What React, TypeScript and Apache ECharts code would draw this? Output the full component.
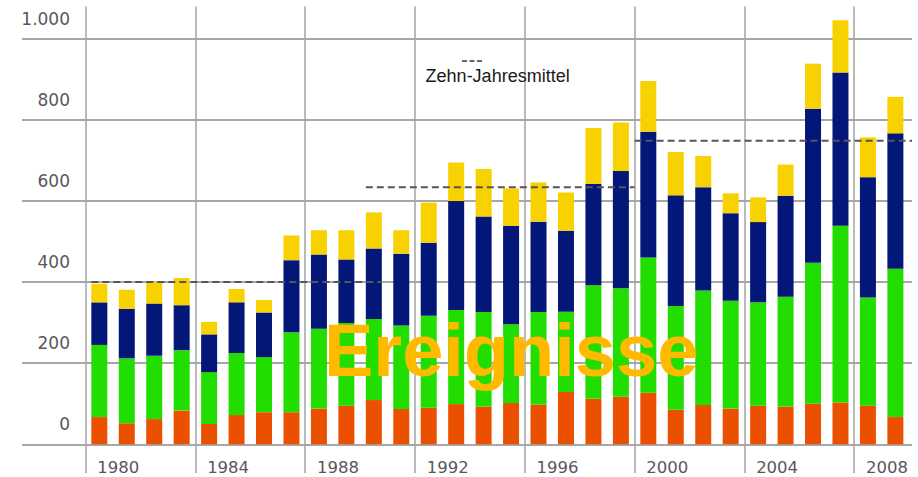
import React, { useEffect, useRef } from 'react';
import * as echarts from 'echarts';

const years = [
  '1980', '1981', '1982', '1983', '1984', '1985', '1986', '1987', '1988', '1989',
  '1990', '1991', '1992', '1993', '1994', '1995', '1996', '1997', '1998', '1999',
  '2000', '2001', '2002', '2003', '2004', '2005', '2006', '2007', '2008', '2009',
];

const yTickLabels = ['0', '200', '400', '600', '800', '1.000'];

const seriesRed = [67, 52, 62, 83, 50, 72, 79, 79, 88, 95, 109, 87, 90, 99, 93, 102, 98, 129, 112, 117, 127, 85, 97, 88, 95, 93, 100, 103, 95, 67];
const seriesGreen = [178, 160, 156, 149, 128, 153, 136, 197, 197, 204, 200, 206, 227, 232, 233, 194, 228, 198, 280, 268, 334, 256, 282, 266, 255, 271, 348, 436, 267, 366];
const seriesNavy = [105, 122, 129, 111, 93, 125, 110, 178, 183, 157, 174, 177, 180, 269, 236, 243, 223, 200, 250, 289, 310, 273, 255, 216, 198, 249, 380, 378, 297, 334];
const seriesYellow = [46, 47, 54, 67, 31, 33, 31, 61, 60, 72, 89, 58, 99, 95, 117, 92, 97, 94, 138, 120, 125, 107, 77, 49, 61, 77, 111, 129, 98, 90];

const avgStart = ['1980', '1990', '2000'];
const avgEnd = ['1990', '1999', '2009'];
const avgValues = [400, 634, 749];

const legendLabel = 'Zehn-Jahresmittel';
const titleLabel = 'Ereignisse';

export default function App() {
  const ref = useRef<HTMLDivElement>(null);

  useEffect(() => {
    if (!ref.current) return;
    const chart = echarts.init(ref.current, undefined, { renderer: 'svg' });
    const labelColor = '#5b5560';
    const barW = 16;

    const option: any = {
      animation: false,
      backgroundColor: '#ffffff',
      grid: [
        { left: 22, right: 6, top: 39, bottom: 32.7, containLabel: false, outerBoundsMode: 'none' },
        { left: 85.6, right: 8.9, top: 6.5, bottom: 4, containLabel: false, outerBoundsMode: 'none' },
      ],
      xAxis: [
        { type: 'value', gridIndex: 0, min: 0, max: 1, show: false },
        {
          type: 'category',
          gridIndex: 1,
          data: years,
          boundaryGap: true,
          offset: -28.7,
          axisLine: { show: false, onZero: false },
          axisTick: { show: false },
          splitLine: {
            show: true,
            interval: 3,
            showMaxLine: false,
            lineStyle: { color: '#a3a3a3', width: 1.5 },
          },
          axisLabel: {
            interval: 3,
            align: 'left',
            padding: [0, 0, 0, -2],
            margin: 13,
            lineHeight: 20,
            fontSize: 16.5,
            fontFamily: 'DejaVu Sans',
            color: labelColor,
          },
        },
      ],
      yAxis: [
        {
          type: 'value',
          gridIndex: 0,
          min: 0,
          max: 1000,
          interval: 200,
          axisLine: { show: false },
          axisTick: { show: false },
          splitLine: { show: true, lineStyle: { color: '#8a8a8a', width: 1.5 } },
          axisLabel: {
            inside: true,
            align: 'right',
            verticalAlign: 'bottom',
            lineHeight: 40,
            margin: 48,
            fontSize: 17,
            fontFamily: 'DejaVu Sans',
            color: labelColor,
            formatter: (v: number) => yTickLabels[Math.round(v / 200)] ?? '',
          },
        },
        { type: 'value', gridIndex: 1, min: -71, max: 1080, show: false },
      ],
      series: [
        { name: 'a', type: 'bar', xAxisIndex: 1, yAxisIndex: 1, stack: 't', barWidth: barW, data: seriesRed, itemStyle: { color: '#EB5000' } },
        { name: 'b', type: 'bar', xAxisIndex: 1, yAxisIndex: 1, stack: 't', barWidth: barW, data: seriesGreen, itemStyle: { color: '#22DD00' } },
        { name: 'c', type: 'bar', xAxisIndex: 1, yAxisIndex: 1, stack: 't', barWidth: barW, data: seriesNavy, itemStyle: { color: '#031778' } },
        { name: 'd', type: 'bar', xAxisIndex: 1, yAxisIndex: 1, stack: 't', barWidth: barW, data: seriesYellow, itemStyle: { color: '#F7D100' } },
        {
          name: 'avg',
          type: 'custom',
          xAxisIndex: 1,
          yAxisIndex: 1,
          clip: false,
          z: 5,
          encode: { x: [0, 1], y: 2 },
          data: avgValues.map((v, i) => [years.indexOf(avgStart[i]), years.indexOf(avgEnd[i]), v]),
          renderItem: (params: any, api: any) => {
            const i = params.dataIndex;
            const s = api.value(0);
            const e = api.value(1);
            const v = api.value(2);
            const a = api.coord([s, v]);
            const b = api.coord([e, v]);
            const band = api.size([1, 0])[0];
            const half = barW / 2;
            const lOff = [half, half, band / 2][i];
            const rOff = [half, band / 2, band / 2 + 3][i];
            return {
              type: 'line',
              shape: { x1: a[0] - lOff, y1: a[1], x2: b[0] + rOff, y2: b[1] },
              style: { stroke: '#58535c', lineWidth: 2, lineDash: [7, 4] },
            };
          },
        },
      ],
      graphic: [
        {
          type: 'line',
          shape: { x1: 462, y1: 61, x2: 483, y2: 61 },
          style: { stroke: '#333333', lineWidth: 1.3, lineDash: [5, 2.5] },
          z: 10,
        },
        {
          type: 'text',
          x: 425.6,
          y: 75.7,
          style: {
            text: legendLabel,
            font: '18px "Liberation Sans", Arial, sans-serif',
            fill: '#1a1a1a',
            textAlign: 'left',
            textVerticalAlign: 'middle',
          },
          z: 10,
        },
        {
          type: 'text',
          x: 324,
          y: 350.5,
          style: {
            text: titleLabel,
            font: 'bold 74px "Liberation Sans", Arial, sans-serif',
            fill: '#FFBA00',
            textAlign: 'left',
            textVerticalAlign: 'middle',
          },
          z: 100,
        },
      ],
    };

    chart.setOption(option);
    return () => chart.dispose();
  }, []);

  return (
    <div
      ref={ref}
      style={{ position: 'absolute', left: 0, top: 0, width: 918, height: 477, background: '#fff' }}
    />
  );
}
